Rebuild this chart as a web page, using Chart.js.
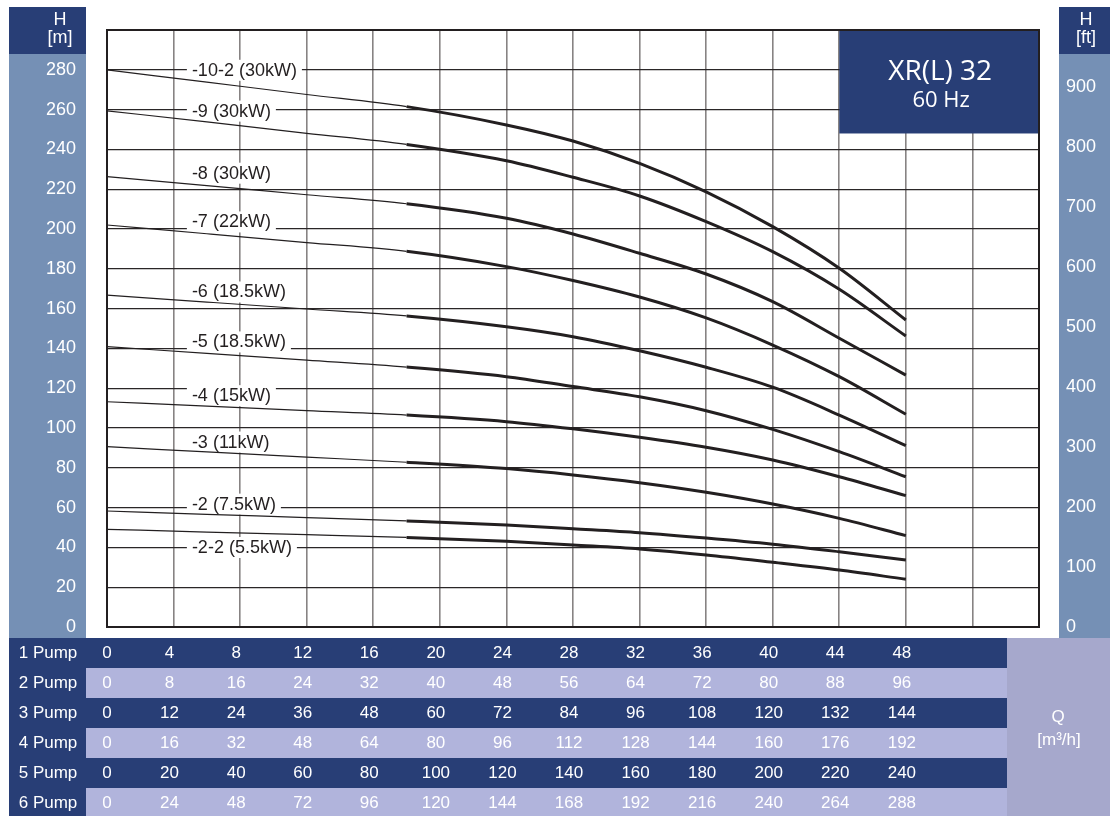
<!DOCTYPE html>
<html>
<head>
<meta charset="utf-8">
<script src="https://cdn.jsdelivr.net/npm/chart.js@4.4.0/dist/chart.umd.min.js"></script>
<style>
  html, body { margin: 0; padding: 0; background: #fff; }
  canvas { display: block; }
</style>
</head>
<body>
<canvas id="pumpChart" width="1110" height="816"></canvas>
<script>
// flow points (m3/h, 1 pump) where the curves were read
const flowQ = [0, 6, 12, 18, 24, 28, 32, 36, 40, 44, 48];

// head in metres for every stage
const head_10_2 = [280, 273.8, 267.6, 261.5, 252.3, 244.2, 233.0, 218.7, 201.2, 180.3, 154.3];
const head_9    = [259.4, 253.8, 248.1, 242.5, 234.3, 226.0, 216.6, 203.7, 188.6, 169.7, 146.2];
const head_8    = [226.3, 221.8, 217.2, 212.7, 205.4, 197.5, 187.8, 177.4, 163.5, 145.1, 126.6];
const head_7    = [202.0, 197.6, 193.2, 188.8, 181.1, 174.1, 165.8, 155.3, 141.7, 125.8, 106.9];
const head_6    = [166.8, 163.3, 159.8, 156.3, 150.9, 145.9, 138.8, 130.5, 120.5, 106.5, 91.1];
const head_5    = [140.9, 137.5, 134.1, 130.6, 125.8, 120.8, 115.7, 108.7, 99.3, 88.1, 75.5];
const head_4    = [113.2, 111.0, 108.7, 106.5, 103.2, 99.6, 95.3, 90.3, 83.9, 75.5, 66.0];
const head_3    = [90.6, 88.0, 85.4, 82.8, 79.6, 76.4, 72.5, 67.7, 61.8, 54.6, 45.9];
const head_2    = [58.3, 56.6, 55.0, 53.3, 51.3, 49.4, 47.4, 44.7, 41.6, 37.8, 33.7];
const head_2_2  = [49.1, 47.7, 46.4, 45.0, 43.1, 41.2, 39.2, 36.2, 32.5, 28.6, 24.0];

const curveNames = [
    "-10-2 (30kW)", "-9 (30kW)", "-8 (30kW)", "-7 (22kW)", "-6 (18.5kW)",
    "-5 (18.5kW)", "-4 (15kW)", "-3 (11kW)", "-2 (7.5kW)", "-2-2 (5.5kW)"
];
const curveHeads = [head_10_2, head_9, head_8, head_7, head_6, head_5, head_4, head_3, head_2, head_2_2];

// right axis ticks in feet
const feetTicks = [0, 100, 200, 300, 400, 500, 600, 700, 800, 900];

// flow scale rows under the chart
const pumpNames = ["1 Pump", "2 Pump", "3 Pump", "4 Pump", "5 Pump", "6 Pump"];
const pump1 = [0, 4, 8, 12, 16, 20, 24, 28, 32, 36, 40, 44, 48];
const pump2 = [0, 8, 16, 24, 32, 40, 48, 56, 64, 72, 80, 88, 96];
const pump3 = [0, 12, 24, 36, 48, 60, 72, 84, 96, 108, 120, 132, 144];
const pump4 = [0, 16, 32, 48, 64, 80, 96, 112, 128, 144, 160, 176, 192];
const pump5 = [0, 20, 40, 60, 80, 100, 120, 140, 160, 180, 200, 220, 240];
const pump6 = [0, 24, 48, 72, 96, 120, 144, 168, 192, 216, 240, 264, 288];
const pumpRows = [pump1, pump2, pump3, pump4, pump5, pump6];

const NAVY = "#283e76";
const STEEL = "#7590b5";
const LAVENDER = "#b1b4dc";
const QCELL = "#a6a8cc";
const INK = "#231f20";
const FONT = "'Liberation Sans', Arial, sans-serif";

// where the curve names sit (flow, head)
const labelFlow = 5.1;
const labelHeads = [280, 259.5, 228.3, 203.8, 168.6, 143.5, 116.5, 93.2, 62, 40.2];

const noPad = s => { s.paddingTop = 0; s.paddingBottom = 0; };

const panels = {
    id: "panels",
    beforeDraw(chart) {
        const ctx = chart.ctx;
        ctx.save();
        ctx.fillStyle = NAVY;
        ctx.fillRect(9, 7, 77, 47);
        ctx.fillRect(1059, 7, 51, 47);
        ctx.fillStyle = STEEL;
        ctx.fillRect(9, 54, 77, 584);
        ctx.fillRect(1059, 54, 51, 584);

        ctx.fillStyle = "#fff";
        ctx.font = "18px " + FONT;
        ctx.textAlign = "center";
        ctx.textBaseline = "middle";
        ctx.fillText("H", 60, 20);
        ctx.fillText("[m]", 60, 38);
        ctx.fillText("H", 1086, 20);
        ctx.fillText("[ft]", 1086, 38);
        ctx.restore();
    },
    beforeDatasetsDraw(chart) {
        const ctx = chart.ctx;
        const xs = chart.scales.x;
        const ys = chart.scales.y;
        const area = chart.chartArea;
        ctx.save();

        // curve names on white boxes
        ctx.font = "18px " + FONT;
        ctx.textBaseline = "middle";
        ctx.textAlign = "left";
        curveNames.forEach((name, i) => {
            const x = xs.getPixelForValue(labelFlow);
            const y = ys.getPixelForValue(labelHeads[i]);
            const w = ctx.measureText(name).width;
            ctx.fillStyle = "#fff";
            ctx.fillRect(x - 5, y - 10, w + 10, 21);
            ctx.fillStyle = INK;
            ctx.fillText(name, x, y + 1);
        });

        // title box
        const bx = xs.getPixelForValue(44);
        const by = ys.getPixelForValue(248);
        ctx.fillStyle = NAVY;
        ctx.fillRect(bx, area.top, area.right - bx, by - area.top);
        ctx.fillStyle = "#fff";
        ctx.textAlign = "center";
        ctx.font = "28px 'Open Sans', sans-serif";
        ctx.fillText("XR(L) 32", (bx + area.right) / 2 + 1, area.top + 42);
        ctx.font = "22px 'Open Sans', sans-serif";
        ctx.fillText("60 Hz", (bx + area.right) / 2 + 2, area.top + 71);
        ctx.restore();
    },
    afterDraw(chart) {
        const ctx = chart.ctx;
        const xs = chart.scales.x;
        const area = chart.chartArea;
        ctx.save();

        // frame
        ctx.strokeStyle = INK;
        ctx.lineWidth = 2;
        ctx.strokeRect(area.left, area.top, area.right - area.left, area.bottom - area.top);

        // flow table
        const top = 638;
        const rowH = 30;
        pumpRows.forEach((row, r) => {
            const y = top + r * rowH;
            ctx.fillStyle = NAVY;
            ctx.fillRect(9, y, 77, rowH);
            ctx.fillStyle = r % 2 === 0 ? NAVY : LAVENDER;
            ctx.fillRect(86, y, 921, rowH);

            ctx.fillStyle = "#fff";
            ctx.font = "17px " + FONT;
            ctx.textAlign = "center";
            ctx.textBaseline = "middle";
            ctx.fillText(pumpNames[r], 48, y + rowH / 2);
            row.forEach((v, i) => {
                const x = xs.getPixelForValue(pump1[i]) - (i === 0 ? 0 : 4);
                ctx.fillText(String(v), x, y + rowH / 2);
            });
        });

        ctx.fillStyle = QCELL;
        ctx.fillRect(1007, top, 103, 816 - top);
        ctx.fillStyle = "#fff";
        ctx.font = "17px " + FONT;
        ctx.textAlign = "center";
        ctx.fillText("Q", 1058, 717);
        ctx.fillText("[m\u00b3/h]", 1059, 740);
        ctx.restore();
    }
};

const datasets = curveHeads.map((heads, i) => ({
    label: curveNames[i],
    data: flowQ.map((q, j) => ({ x: q, y: heads[j] })),
    yAxisID: "y",
    borderColor: INK,
    borderWidth: 3,
    pointRadius: 0,
    fill: false,
    cubicInterpolationMode: "monotone",
    segment: {
        borderWidth: ctx => ctx.p0.parsed.x >= 18 ? 3 : 1.2
    }
}));

new Chart(document.getElementById("pumpChart"), {
    type: "line",
    data: { datasets: datasets },
    options: {
        responsive: false,
        animation: false,
        devicePixelRatio: 1,
        layout: { padding: { top: 30, left: 0, right: 0, bottom: 0 } },
        plugins: {
            legend: { display: false },
            tooltip: { enabled: false }
        },
        scales: {
            x: {
                type: "linear",
                min: 0,
                max: 56,
                ticks: { display: false, stepSize: 4 },
                grid: { color: "#878383", lineWidth: 1.6, drawTicks: false },
                border: { display: false },
                afterFit: s => { s.height = 189; s.paddingLeft = 0; s.paddingRight = 0; }
            },
            y: {
                position: "left",
                min: 0,
                max: 300,
                ticks: {
                    stepSize: 20,
                    color: "#fff",
                    padding: 31,
                    font: { family: FONT, size: 18 },
                    callback: v => v >= 300 ? "" : v
                },
                grid: { color: "#2a2627", lineWidth: 1.3, drawTicks: false },
                border: { display: false },
                afterFit: s => { s.width = 107; noPad(s); }
            },
            y2: {
                position: "right",
                min: 0,
                max: 995,
                afterBuildTicks: s => { s.ticks = feetTicks.map(v => ({ value: v })); },
                ticks: {
                    autoSkip: false,
                    color: "#fff",
                    padding: 27,
                    font: { family: FONT, size: 18 }
                },
                grid: { drawOnChartArea: false, drawTicks: false },
                border: { display: false },
                afterFit: s => { s.width = 71; noPad(s); }
            }
        }
    },
    plugins: [panels]
});
</script>
</body>
</html>
